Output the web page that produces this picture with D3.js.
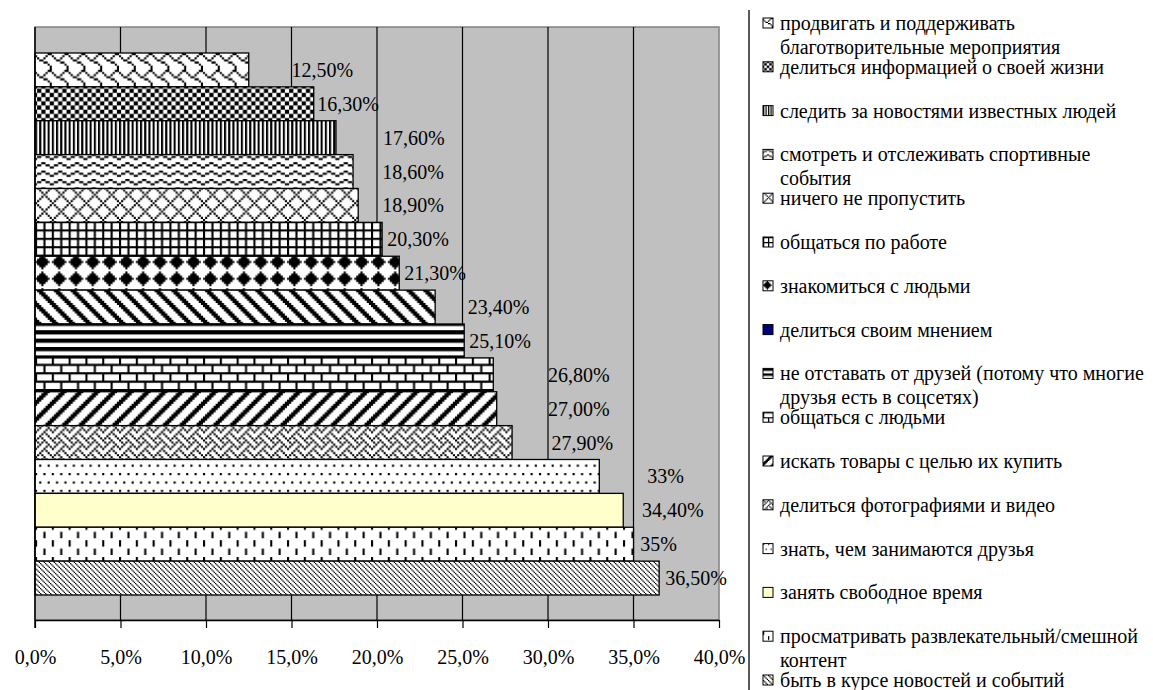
<!DOCTYPE html>
<html>
<head>
<meta charset="utf-8">
<script src="https://cdn.jsdelivr.net/npm/d3@7"></script>
<style>
  body { margin: 0; background: #fff; }
  svg { display: block; font-family: "Liberation Serif", "Times New Roman", serif; }
</style>
</head>
<body>
<div id="chart"></div>
<script>
// Bars, top to bottom (same order as legend)
const categories = [
    'продвигать и поддерживать благотворительные мероприятия',
    'делиться информацией о своей жизни',
    'следить за новостями известных людей',
    'смотреть и отслеживать спортивные события',
    'ничего не пропустить',
    'общаться по работе',
    'знакомиться с людьми',
    'делиться своим мнением',
    'не отставать от друзей (потому что многие друзья есть в соцсетях)',
    'общаться с людьми',
    'искать товары с целью их купить',
    'делиться фотографиями и видео',
    'знать, чем занимаются друзья',
    'занять свободное время',
    'просматривать развлекательный/смешной контент',
    'быть в курсе новостей и событий'
];
const values = [12.5, 16.3, 17.6, 18.6, 18.9, 20.3, 21.3, 23.4, 25.1, 26.8, 27.0, 27.9, 33, 34.4, 35, 36.5];
const valueLabels = ['12,50%', '16,30%', '17,60%', '18,60%', '18,90%', '20,30%', '21,30%', '23,40%',
    '25,10%', '26,80%', '27,00%', '27,90%', '33%', '34,40%', '35%', '36,50%'];
// where each data label was left in the original (in % units, label's left edge)
const labelAt = [15.0, 16.5, 20.35, 20.3, 20.3, 20.6, 21.6, 25.3, 25.4, 30.0, 30.0, 30.2, 35.8, 35.5, 35.4, 36.85];
const tickValues = [0, 5, 10, 15, 20, 25, 30, 35, 40];
const tickLabels = ['0,0%', '5,0%', '10,0%', '15,0%', '20,0%', '25,0%', '30,0%', '35,0%', '40,0%'];

// Excel-like 8x8 pattern fills, one per bar
const fills = [
    {bits: ['00000011','10000100','01001000','00110000','00001100','00000010','00000001','00000001']}, // shingle
    {bits: ['10011001','01100110','01100110','10011001']},                                           // small checker
    {bits: ['10']},                                                                                   // narrow vertical
    {bits: ['00011000','01100110','10000001','00000000']},                                           // wave
    {bits: ['01000001','00100010','00010100','00001000','00010100','00100010','01000001','10000000']}, // outlined diamond
    {bits: ['11111111','10001000','10001000','10001000']},                                           // small grid
    {bits: ['00010000','00111000','01111100','11111110','01111100','00111000','00010000','00000000']}, // solid diamond
    {bits: ['11100000','01110000','00111000','00011100','00001110','00000111','10000011','11000001']}, // wide downward
    {bits: ['1','1','0','0']},                                                                        // dark horizontal
    {bits: ['11111111','10000000','10000000','10000000','11111111','00001000','00001000','00001000']}, // brick
    {bits: ['00000111','00001110','00011100','00111000','01110000','11100000','11000001','10000011']}, // wide upward
    {bits: ['10001000','01010100','00100010','01000101','10001000','00010100','00100010','01010001']}, // weave
    {bits: ['10001000','00000000','00000000','00000000','00100010','00000000','00000000','00000000']}, // dots
    {color: '#FFFFCC'},
    {bits: ['10000000','10000000','10000000','00000000','00001000','00001000','00001000','00000000']}, // dashed vertical
    {bits: ['1000','0100','0010','0001'], s: 1.25}                                                   // light downward
];

const width = 1153, height = 690;
const plot = {left: 35, right: 719, top: 27, bottom: 620};

const svg = d3.select('#chart').append('svg')
    .attr('width', width)
    .attr('height', height);
const defs = svg.append('defs');

function bitmapPattern(id, bits, s, ox, oy) {
    const w = bits[0].length, h = bits.length;
    const p = defs.append('pattern')
        .attr('id', id)
        .attr('patternUnits', 'userSpaceOnUse')
        .attr('x', ox).attr('y', oy)
        .attr('width', w * s).attr('height', h * s);
    p.append('rect').attr('width', w * s).attr('height', h * s).attr('fill', '#fff');
    let d = '';
    bits.forEach((row, r) => {
        for (let c = 0; c < w; c++) {
            if (row[c] !== '1') continue;
            let e = c;
            while (e + 1 < w && row[e + 1] === '1') e++;
            d += `M${c * s},${r * s}h${(e - c + 1) * s}v${s}h${-(e - c + 1) * s}z`;
            c = e;
        }
    });
    p.append('path').attr('d', d).attr('fill', '#000');
}

// Scales
const x = d3.scaleLinear().domain([0, 40]).range([plot.left, plot.right]);
const y = d3.scaleBand().domain(categories).range([53, 595]).padding(0);

fills.forEach((f, i) => {
    if (f.bits) {
        bitmapPattern('bar-p' + i, f.bits, f.s || 2.1, plot.left, 53);
    }
});

// Plot background
svg.append('rect')
    .attr('x', plot.left).attr('y', plot.top)
    .attr('width', plot.right - plot.left).attr('height', plot.bottom - plot.top)
    .attr('fill', '#C0C0C0')
    .attr('stroke', '#808080')
    .attr('stroke-width', 1.5);

// Grid lines
svg.append('g')
    .selectAll('line')
    .data(tickValues.slice(1, -1))
    .join('line')
    .attr('x1', d => x(d)).attr('x2', d => x(d))
    .attr('y1', plot.top).attr('y2', plot.bottom)
    .attr('stroke', '#000')
    .attr('stroke-width', 1.2);

// Bars
svg.append('g')
    .selectAll('rect')
    .data(categories)
    .join('rect')
    .attr('x', x(0))
    .attr('y', d => y(d))
    .attr('width', (d, i) => x(values[i]) - x(0))
    .attr('height', y.bandwidth())
    .attr('fill', (d, i) => fills[i].color || `url(#bar-p${i})`)
    .attr('stroke', '#000')
    .attr('stroke-width', 1.3);

// Value axis
svg.append('g')
    .attr('transform', `translate(0,${plot.bottom})`)
    .call(d3.axisBottom(x)
        .tickValues(tickValues)
        .tickFormat((d, i) => tickLabels[i])
        .tickSize(8)
        .tickPadding(22)
        .tickSizeOuter(0))
    .call(g => g.select('.domain').attr('stroke', '#000').attr('stroke-width', 1.5))
    .call(g => g.selectAll('line').attr('stroke', '#000').attr('stroke-width', 1.2))
    .call(g => g.selectAll('text')
        .attr('font-size', '20px')
        .attr('font-family', '"Liberation Serif", "Times New Roman", serif')
        .attr('fill', '#000'));

// Left axis line
svg.append('line')
    .attr('x1', plot.left).attr('x2', plot.left)
    .attr('y1', plot.top).attr('y2', plot.bottom + 8)
    .attr('stroke', '#000').attr('stroke-width', 1.5);

// Data labels
svg.append('g')
    .selectAll('text')
    .data(categories)
    .join('text')
    .attr('x', (d, i) => x(labelAt[i]))
    .attr('y', d => y(d) + y.bandwidth() / 2)
    .attr('dy', '0.35em')
    .attr('font-size', '20px')
    .attr('fill', '#000')
    .text((d, i) => valueLabels[i]);

// Legend
const legendX = 749;
svg.append('line')
    .attr('x1', legendX).attr('x2', legendX)
    .attr('y1', 10).attr('y2', height)
    .attr('stroke', '#222').attr('stroke-width', 1.5);

const ly = d3.scalePoint().domain(categories).range([23, 680]);
const legend = svg.append('g');
const textX = 780, maxW = width - textX;

categories.forEach((c, i) => {
    const cy = ly(c);
    const f = fills[i];
    let swatch = f.color || `url(#leg-p${i})`;
    if (i === 7) swatch = '#000080';
    if (f.bits && i !== 7) bitmapPattern('leg-p' + i, f.bits, 1.25, 763, cy - 5);
    legend.append('rect')
        .attr('x', 763).attr('y', cy - 5)
        .attr('width', 10).attr('height', 10)
        .attr('fill', swatch)
        .attr('stroke', '#000').attr('stroke-width', 1);

    const t = legend.append('text')
        .attr('x', textX).attr('y', cy)
        .attr('dy', '0.35em')
        .attr('font-size', '20px')
        .attr('fill', '#000');
    // wrap on width
    const words = c.split(' ');
    let line = [], tspan = t.append('tspan').attr('x', textX);
    words.forEach(w => {
        line.push(w);
        tspan.text(line.join(' '));
        if (tspan.node().getComputedTextLength() > maxW && line.length > 1) {
            line.pop();
            tspan.text(line.join(' '));
            line = [w];
            tspan = t.append('tspan').attr('x', textX).attr('dy', 24).text(w);
        }
    });
});
</script>
</body>
</html>
